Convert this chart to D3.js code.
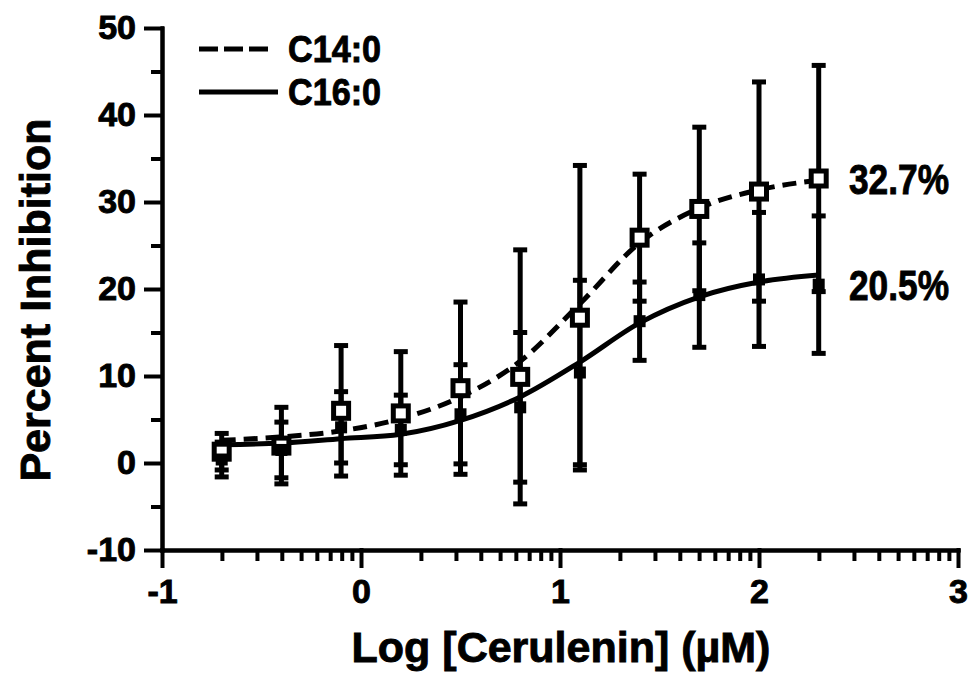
<!DOCTYPE html>
<html>
<head>
<meta charset="utf-8">
<script src="https://cdn.jsdelivr.net/npm/d3@7"></script>
<style>
  html, body { margin: 0; padding: 0; background: #fff; }
  svg { display: block; }
  text { font-family: "Liberation Sans", Arial, Helvetica, sans-serif; font-weight: bold; fill: #000; stroke: #000; stroke-width: 0.9px; }
</style>
</head>
<body>
<svg id="chart" width="969" height="673"></svg>
<script>
// Log10 of cerulenin concentration (µM) for each dose
const logConc = [-0.7, -0.4, -0.1, 0.2, 0.5, 0.8, 1.1, 1.4, 1.7, 2.0, 2.3];

// C14:0 (open squares, dashed fit)
const c14Mean = [1.3, 2.0, 6.0, 5.7, 8.6, 9.9, 16.7, 25.9, 29.2, 31.2, 32.7];
const c14Err  = [2.1, 4.4, 7.5, 7.1, 9.9, 14.6, 17.5, 7.3, 9.4, 12.6, 13.0];
const c14Fit  = [2.6, 3.0, 3.7, 5.1, 7.6, 11.7, 18.3, 25.3, 29.3, 31.4, 32.5];

// C16:0 (filled squares, solid fit)
const c16Mean = [0.4, 1.5, 4.1, 3.8, 5.6, 6.4, 10.4, 16.3, 19.3, 21.1, 20.5];
const c16Err  = [2.0, 3.2, 4.1, 4.0, 5.7, 8.6, 10.6, 4.5, 6.0, 7.7, 7.9];
const c16Fit  = [2.1, 2.3, 2.8, 3.3, 4.9, 7.6, 11.6, 16.1, 19.1, 20.8, 21.6];

// Axis ticks
const xTicks = [-1, 0, 1, 2, 3];
const yTicks = [-10, 0, 10, 20, 30, 40, 50];
const yMinorTicks = [-5, 5, 15, 25, 35, 45];
const xMinorSteps = [2, 3, 4, 5, 6, 7, 8, 9];

const svg = d3.select("#chart");

const x = d3.scaleLinear().domain([-1, 3]).range([162, 958]);
const y = d3.scaleLinear().domain([-10, 50]).range([550, 28]);

// minor log ticks within each decade
const xMinorTicks = [];
for (let d = -1; d < 3; d++) xMinorSteps.forEach(s => xMinorTicks.push(d + Math.log10(s)));

const axisStroke = 4;
const plainInt = d => String(d);   // hyphen-minus for negatives

// Minor ticks (drawn first, no labels)
const xMinor = svg.append("g").attr("transform", `translate(0,${y(-10)})`)
  .call(d3.axisBottom(x).tickValues(xMinorTicks).tickSize(11).tickSizeOuter(0).tickFormat(""));
const yMinor = svg.append("g").attr("transform", `translate(${x(-1)},0)`)
  .call(d3.axisLeft(y).tickValues(yMinorTicks).tickSize(11).tickSizeOuter(0).tickFormat(""));

// Major ticks with labels
const xAxis = svg.append("g").attr("transform", `translate(0,${y(-10)})`)
  .call(d3.axisBottom(x).tickValues(xTicks).tickSize(18).tickSizeOuter(0).tickPadding(11).tickFormat(plainInt));
const yAxis = svg.append("g").attr("transform", `translate(${x(-1)},0)`)
  .call(d3.axisLeft(y).tickValues(yTicks).tickSize(18).tickSizeOuter(0).tickPadding(8).tickFormat(plainInt));

[xMinor, yMinor, xAxis, yAxis].forEach(g => {
  g.select(".domain").attr("stroke", "#000").attr("stroke-width", axisStroke).attr("stroke-linecap", "square");
  g.selectAll(".tick line").attr("stroke", "#000").attr("stroke-width", axisStroke);
  g.selectAll(".tick text").style("font-size", "34px").attr("fill", "#000")
    .style("font-family", '"Liberation Sans", Arial, sans-serif').style("font-weight", "bold");
});
xAxis.selectAll(".tick line").attr("y1", -2);
yAxis.selectAll(".tick line").attr("x1", 2);

// Axis titles
svg.append("text")
  .attr("x", 561).attr("y", 662)
  .attr("text-anchor", "middle")
  .style("font-size", "43px")
  .text("Log [Cerulenin] (µM)");

svg.append("text")
  .attr("transform", "translate(50,300) rotate(-90)")
  .attr("text-anchor", "middle")
  .style("font-size", "43px")
  .text("Percent Inhibition");

// Build point records
const c14 = logConc.map((v, i) => ({ x: v, m: c14Mean[i], e: c14Err[i], f: c14Fit[i] }));
const c16 = logConc.map((v, i) => ({ x: v, m: c16Mean[i], e: c16Err[i], f: c16Fit[i] }));

// Error bars
function errorBars(data) {
  const g = svg.append("g");
  const capW = 14;
  data.forEach(d => {
    g.append("line")
      .attr("x1", x(d.x)).attr("x2", x(d.x))
      .attr("y1", y(d.m + d.e)).attr("y2", y(d.m - d.e))
      .attr("stroke", "#000").attr("stroke-width", 5);
    [d.m + d.e, d.m - d.e].forEach(v => {
      g.append("line")
        .attr("x1", x(d.x) - capW / 2).attr("x2", x(d.x) + capW / 2)
        .attr("y1", y(v)).attr("y2", y(v))
        .attr("stroke", "#000").attr("stroke-width", 5);
    });
  });
}
errorBars(c14);
errorBars(c16);

// Fitted curves
const fitLine = d3.line().x(d => x(d.x)).y(d => y(d.f)).curve(d3.curveMonotoneX);

svg.append("path").datum(c16)
  .attr("d", fitLine)
  .attr("fill", "none").attr("stroke", "#000").attr("stroke-width", 5);

svg.append("path").datum(c14)
  .attr("d", fitLine)
  .attr("fill", "none").attr("stroke", "#000").attr("stroke-width", 5)
  .attr("stroke-dasharray", "14,8");

// Markers
const openSize = 15;
svg.append("g").selectAll("rect").data(c14).join("rect")
  .attr("x", d => x(d.x) - openSize / 2).attr("y", d => y(d.m) - openSize / 2)
  .attr("width", openSize).attr("height", openSize)
  .attr("fill", "#fff").attr("stroke", "#000").attr("stroke-width", 5);

const fillSize = 12;
svg.append("g").selectAll("rect").data(c16).join("rect")
  .attr("x", d => x(d.x) - fillSize / 2).attr("y", d => y(d.m) - fillSize / 2)
  .attr("width", fillSize).attr("height", fillSize)
  .attr("fill", "#000");

// End-point value labels
const last = logConc.length - 1;
[c14Mean[last], c16Mean[last]].forEach(v => {
  svg.append("text")
    .attr("x", 849).attr("y", y(v)).attr("dy", "0.36em")
    .style("font-size", "42px")
    .attr("textLength", 100).attr("lengthAdjust", "spacingAndGlyphs")
    .text(d3.format(".1f")(v) + "%");
});

// Legend
const legend = svg.append("g");
legend.append("line").attr("x1", 199).attr("x2", 268).attr("y1", 49).attr("y2", 49)
  .attr("stroke", "#000").attr("stroke-width", 5).attr("stroke-dasharray", "19,6");
legend.append("text").attr("x", 288).attr("y", 49).attr("dy", "0.36em")
  .style("font-size", "37px").attr("textLength", 93).attr("lengthAdjust", "spacingAndGlyphs")
  .text("C14:0");
legend.append("line").attr("x1", 199).attr("x2", 278).attr("y1", 92).attr("y2", 92)
  .attr("stroke", "#000").attr("stroke-width", 5);
legend.append("text").attr("x", 288).attr("y", 92).attr("dy", "0.36em")
  .style("font-size", "37px").attr("textLength", 93).attr("lengthAdjust", "spacingAndGlyphs")
  .text("C16:0");
</script>
</body>
</html>
